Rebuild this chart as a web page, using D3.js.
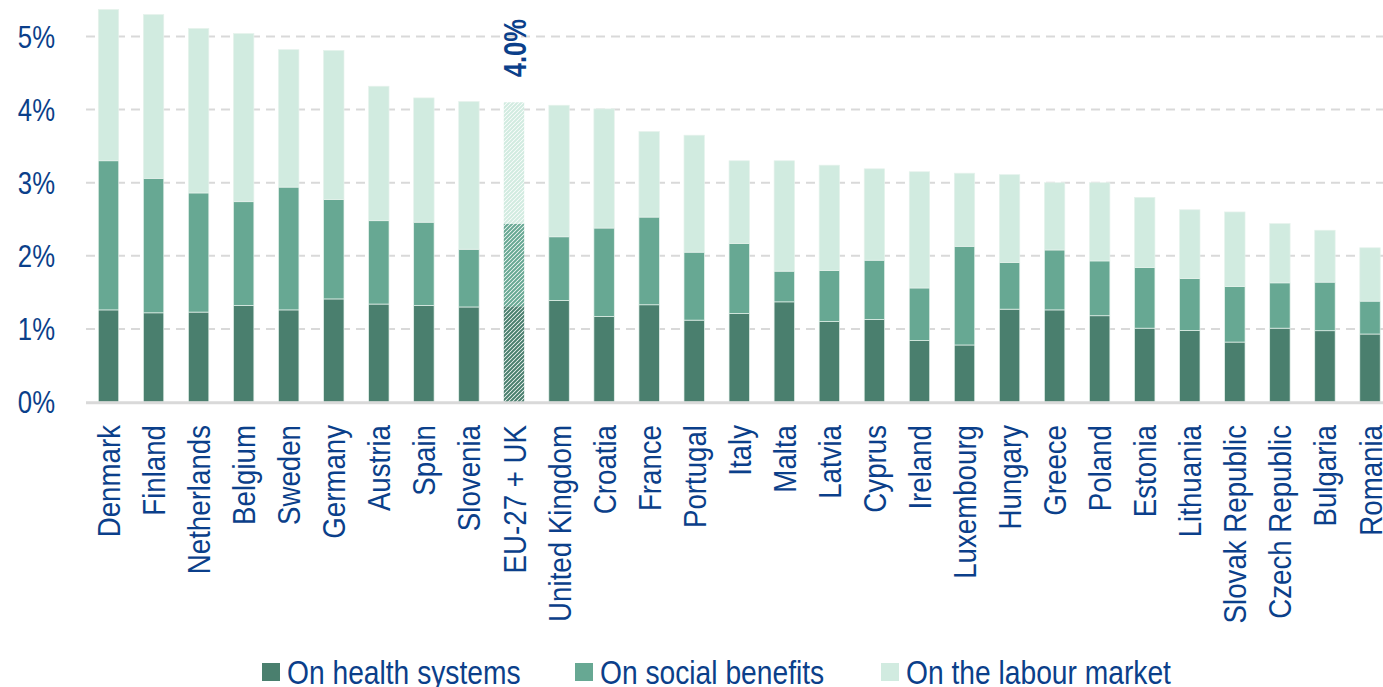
<!DOCTYPE html>
<html>
<head>
<meta charset="utf-8">
<script src="https://cdn.jsdelivr.net/npm/d3@7"></script>
<style>
  html, body { margin: 0; padding: 0; background: #ffffff; }
  svg { display: block; }
  text { font-family: "Liberation Sans", Arial, sans-serif; }
</style>
</head>
<body>
<svg id="chart" width="1383" height="687"></svg>
<script>
const categories = ["Denmark","Finland","Netherlands","Belgium","Sweden","Germany","Austria","Spain","Slovenia","EU-27 + UK","United Kingdom","Croatia","France","Portugal","Italy","Malta","Latvia","Cyprus","Ireland","Luxembourg","Hungary","Greece","Poland","Estonia","Lithuania","Slovak Republic","Czech Republic","Bulgaria","Romania"];
const health = [1.26,1.22,1.23,1.32,1.26,1.41,1.34,1.32,1.30,1.31,1.39,1.17,1.33,1.12,1.21,1.37,1.10,1.13,0.84,0.78,1.27,1.26,1.18,1.01,0.98,0.82,1.01,0.975,0.93];
const social = [2.04,1.84,1.63,1.42,1.68,1.36,1.14,1.14,0.79,1.13,0.87,1.21,1.20,0.93,0.96,0.42,0.70,0.81,0.72,1.35,0.64,0.82,0.75,0.83,0.71,0.76,0.62,0.665,0.45];
const labour = [2.07,2.24,2.25,2.30,1.88,2.04,1.84,1.70,2.02,1.66,1.80,1.63,1.17,1.60,1.13,1.51,1.44,1.25,1.59,1.00,1.20,0.92,1.07,0.96,0.94,1.02,0.81,0.71,0.73];
const seriesNames = ["On health systems","On social benefits","On the labour market"];
const yTicks = [0,1,2,3,4,5];
const highlight = "EU-27 + UK";
const highlightLabel = "4.0%";

const colors = ["#4a7f6e","#67a893","#d1ebe0"];
const textColor = "#0b3f8a";

const svg = d3.select("#chart");
const keys = ["health","social","labour"];
const rows = categories.map((c,i) => ({cat:c, health:health[i], social:social[i], labour:labour[i]}));
const stack = d3.stack().keys(keys)(rows);

const x = d3.scaleBand().domain(categories).range([86, 1392.5]).paddingInner(0.547).paddingOuter(0.273);
const y = d3.scaleLinear().domain([0, 5.5]).range([402, 402 - 73.1*5.5]);

// patterns for highlighted bar
const defs = svg.append("defs");
colors.forEach((col, i) => {
  const p = defs.append("pattern").attr("id","hatch"+i).attr("patternUnits","userSpaceOnUse")
    .attr("width",4).attr("height",4);
  p.append("rect").attr("width",4).attr("height",4).attr("fill","#ffffff");
  p.append("path").attr("d","M-1,1 l2,-2 M0,4 l4,-4 M3,5 l2,-2")
    .attr("stroke",col).attr("stroke-width",2);
});

// gridlines
svg.append("g").selectAll("line").data(yTicks.filter(t => t > 0)).join("line")
  .attr("x1",86).attr("x2",1383)
  .attr("y1",d => y(d)).attr("y2",d => y(d))
  .attr("stroke","#d9d9d9").attr("stroke-width",2).attr("stroke-dasharray","9,6");

// bars
stack.forEach((layer, li) => {
  svg.append("g").selectAll("rect").data(layer).join("rect")
    .attr("x", d => x(d.data.cat))
    .attr("width", x.bandwidth())
    .attr("y", d => y(d[1]))
    .attr("height", d => y(d[0]) - y(d[1]))
    .attr("fill", d => d.data.cat === highlight ? `url(#hatch${li})` : colors[li])
    .attr("stroke", d => d.data.cat === highlight ? "none" : "#e6f2ec")
    .attr("stroke-width", 0.7);
});

// baseline
svg.append("line").attr("x1",86).attr("x2",1383).attr("y1",y(0)+0.8).attr("y2",y(0)+0.8)
  .attr("stroke","#d9d9d9").attr("stroke-width",3);

// y axis labels
svg.append("g").selectAll("text").data(yTicks).join("text")
  .attr("transform", d => `translate(55,${y(d)}) scale(0.83,1)`)
  .attr("text-anchor","end").attr("dy","0.36em")
  .attr("fill",textColor).style("font-size","31px")
  .text(d => d + "%");

// x axis labels
svg.append("g").selectAll("text").data(categories).join("text")
  .attr("transform", d => `translate(${x(d) + x.bandwidth()/2},${y(0)}) rotate(-90) translate(-23,0) scale(0.865,1)`)
  .attr("text-anchor","end").attr("dy","0.36em")
  .attr("fill",textColor).style("font-size","32px")
  .text(d => d);

// highlight label
const hi = categories.indexOf(highlight);
const hTop = health[hi] + social[hi] + labour[hi];
svg.append("text")
  .attr("transform",`translate(${x(highlight) + x.bandwidth()/2},${y(hTop) - 25}) rotate(-90) scale(0.8,1)`)
  .attr("dy","0.36em")
  .attr("fill",textColor).style("font-size","32px").style("font-weight","bold")
  .text(highlightLabel);

// legend
const legendX = [262, 575, 881];
const lg = svg.append("g");
seriesNames.forEach((n,i) => {
  lg.append("rect").attr("x",legendX[i]).attr("y",663).attr("width",18).attr("height",18).attr("fill",colors[i]);
  lg.append("text").attr("transform",`translate(${legendX[i]+25},684) scale(0.855,1)`).attr("fill",textColor)
    .style("font-size","33px").text(n);
});
</script>
</body>
</html>
